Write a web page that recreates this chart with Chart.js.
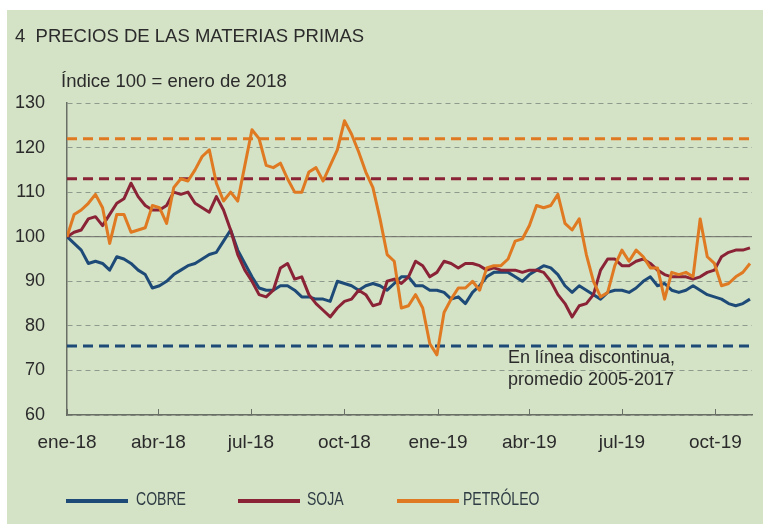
<!DOCTYPE html>
<html>
<head>
<meta charset="utf-8">
<script src="https://cdn.jsdelivr.net/npm/chart.js@4.4.1/dist/chart.umd.min.js"></script>
<style>
  body { margin: 0; background: #fff; width: 763px; height: 524px; overflow: hidden; font-family: "Liberation Sans", Arial, sans-serif; }
  #bg { position: absolute; left: 7px; top: 10px; width: 756px; height: 514px; background: #d4e2c6; }
  #c { position: absolute; left: 0; top: 0; }
  .txt { position: absolute; color: #2b2b2b; white-space: nowrap; }
  #title { left: 15px; top: 25px; font-size: 18.5px; }
  #sub { left: 61px; top: 70px; font-size: 18.5px; }
  #note { left: 508px; top: 346px; font-size: 18px; line-height: 22px; }
  .leg { position: absolute; top: 499px; height: 4px; width: 62px; }
  .legtxt { position: absolute; top: 489px; font-size: 18px; color: #2e3c44; transform: scaleX(0.78); transform-origin: left top; }
</style>
</head>
<body>
<div id="bg"></div>
<canvas id="c" width="763" height="524"></canvas>
<div class="txt" id="title">4&nbsp; PRECIOS DE LAS MATERIAS PRIMAS</div>
<div class="txt" id="sub">Índice 100 = enero de 2018</div>
<div class="txt" id="note">En línea discontinua,<br>promedio 2005-2017</div>
<div class="leg" style="left:66px;background:#1d4a77"></div>
<div class="legtxt" style="left:136px">COBRE</div>
<div class="leg" style="left:238px;background:#8a2336"></div>
<div class="legtxt" style="left:307px">SOJA</div>
<div class="leg" style="left:397px;background:#df7a22"></div>
<div class="legtxt" style="left:463px">PETRÓLEO</div>
<script>
// datos semanales, indice 100 = enero 2018 (primera semana = dia 0)
var cobre = [100, 98.5, 97, 94, 94.5, 94, 92.5, 95.5, 95, 94,
  92.5, 91.5, 88.5, 89, 90, 91.5, 92.5, 93.5, 94, 95,
  96, 96.5, 99, 101.5, 97, 94, 91, 88.5, 88, 88,
  89, 89, 88, 86.5, 86.5, 86, 86, 85.5, 90, 89.5,
  89, 88, 89, 89.5, 89, 88, 89.5, 91, 91, 89,
  89, 88, 88, 87.5, 86, 86.5, 85, 87.5, 89, 91,
  92, 92, 92, 91, 90, 91.5, 92.5, 93.5, 93, 91.5,
  89, 87.5, 89, 88, 87, 86, 87.5, 88, 88, 87.5,
  88.5, 90, 91, 89, 89.5, 88, 87.5, 88, 89, 88,
  87, 86.5, 86, 85, 84.5, 85, 86];
var soja = [100, 101, 101.5, 104, 104.5, 102.5, 105, 107.5, 108.5, 112,
  109, 107, 106, 106, 107, 110, 109.5, 110, 107.5, 106.5,
  105.5, 109, 106, 101.5, 96, 92.5, 90, 87, 86.5, 88,
  93, 94, 90.5, 91, 87, 85, 83.5, 82, 84, 85.5,
  86, 88, 87, 84.5, 85, 90, 90.5, 89.5, 91, 94.5,
  93.5, 91, 92, 94.5, 94, 93, 94, 94, 93.5, 92.5,
  93, 92.5, 92.5, 92.5, 92, 92.5, 92.5, 92, 90, 87,
  85, 82, 84.5, 85, 87, 92.5, 95, 95, 93.5, 93.5,
  94.5, 95, 94, 92.5, 91.5, 91, 91, 91, 90.5, 91,
  92, 92.5, 95.5, 96.5, 97, 97, 97.5];
var petroleo = [100, 105, 106, 107.5, 109.5, 106.5, 98.5, 105, 105, 101,
  101.5, 102, 107, 106.5, 103, 111, 113, 112.5, 115, 118,
  119.5, 112, 108, 110, 108, 116, 124, 122, 116, 115.5,
  116.5, 113, 110, 110, 114.5, 115.5, 112.5, 116, 119.5, 126,
  123, 119, 114.5, 111, 104, 96, 94.5, 84, 84.5, 87,
  84, 76, 73.5, 83, 86, 88.5, 88.5, 90, 88, 93,
  93.5, 93.5, 95, 99, 99.5, 102.5, 107, 106.5, 107, 109.5,
  103, 101.5, 104, 96, 90, 86.5, 87.5, 93.5, 97, 94.5,
  97, 95.5, 93, 93, 86, 92, 91.5, 92, 91, 104,
  95.5, 94, 89, 89.5, 91, 92, 94];

// promedios 2005-2017 (lineas discontinuas)
var promCobre = 75.5;
var promSoja = 113;
var promPetroleo = 122;

var tickDias = [0, 90, 181, 273, 365, 455, 546, 638];
var tickEtiquetas = ['ene-18', 'abr-18', 'jul-18', 'oct-18', 'ene-19', 'abr-19', 'jul-19', 'oct-19'];
var yTicks = [60, 70, 80, 90, 100, 110, 120, 130];
var diaMax = 674;

function serie(vals) {
  return vals.map(function (v, i) { return {x: i * 7, y: v}; });
}
function horizontal(v) {
  return [{x: 0, y: v}, {x: diaMax, y: v}];
}

var marcas = {
  id: 'marcas',
  afterDatasetsDraw: function (chart) {
    var ctx = chart.ctx, xs = chart.scales.x, b = chart.chartArea.bottom;
    ctx.save();
    ctx.strokeStyle = '#6a6f66';
    ctx.lineWidth = 1;
    tickDias.forEach(function (d) {
      var px = Math.round(xs.getPixelForValue(d)) + 0.5;
      ctx.beginPath();
      ctx.moveTo(px, b);
      ctx.lineTo(px, b - 6);
      ctx.stroke();
    });
    ctx.restore();
  }
};

var ctx = document.getElementById('c').getContext('2d');
var myChart = new Chart(ctx, {
  type: 'line',
  data: {
    datasets: [
      {label: 'PETRÓLEO', data: serie(petroleo), borderColor: '#df7a22', borderWidth: 3, order: 1},
      {label: 'SOJA', data: serie(soja), borderColor: '#8a2336', borderWidth: 3, order: 2},
      {label: 'COBRE', data: serie(cobre), borderColor: '#1d4a77', borderWidth: 3, order: 3},
      {label: 'base', data: horizontal(100), borderColor: '#6d6f69', borderWidth: 1, order: 9},
      {label: 'prom petroleo', data: horizontal(promPetroleo), borderColor: '#df7a22', borderWidth: 3, borderDash: [10, 6], order: 8},
      {label: 'prom soja', data: horizontal(promSoja), borderColor: '#8a2336', borderWidth: 3, borderDash: [10, 6], order: 8},
      {label: 'prom cobre', data: horizontal(promCobre), borderColor: '#1d4a77', borderWidth: 3, borderDash: [10, 6], order: 8}
    ]
  },
  options: {
    responsive: false,
    animation: false,
    elements: { point: { radius: 0 }, line: { tension: 0, borderJoinStyle: 'round' } },
    layout: { padding: { left: 0, right: 11, top: 103, bottom: 69 } },
    plugins: { legend: { display: false }, tooltip: { enabled: false } },
    scales: {
      x: {
        type: 'linear',
        min: 0,
        max: diaMax,
        grid: { display: false },
        border: { display: true, color: '#6a6f66', width: 1.5 },
        afterBuildTicks: function (axis) {
          axis.ticks = tickDias.map(function (d) { return {value: d}; });
        },
        afterFit: function (axis) { axis.height = 40; },
        ticks: {
          autoSkip: false,
          maxRotation: 0,
          padding: 8,
          color: '#2b2b2b',
          font: { family: '"Liberation Sans", Arial, sans-serif', size: 19 },
          callback: function (v) { return tickEtiquetas[tickDias.indexOf(v)]; }
        }
      },
      y: {
        min: 60,
        max: 130,
        afterBuildTicks: function (axis) {
          axis.ticks = yTicks.map(function (v) { return {value: v}; });
        },
        afterFit: function (axis) { axis.width = 67; },
        grid: { color: '#8e9a8c', lineWidth: 1, drawTicks: false },
        border: { display: true, color: '#6a6f66', width: 1.5, dash: [5, 4] },
        ticks: {
          padding: 22,
          color: '#2b2b2b',
          font: { family: '"Liberation Sans", Arial, sans-serif', size: 18 }
        }
      }
    }
  },
  plugins: [marcas]
});
</script>
</body>
</html>
